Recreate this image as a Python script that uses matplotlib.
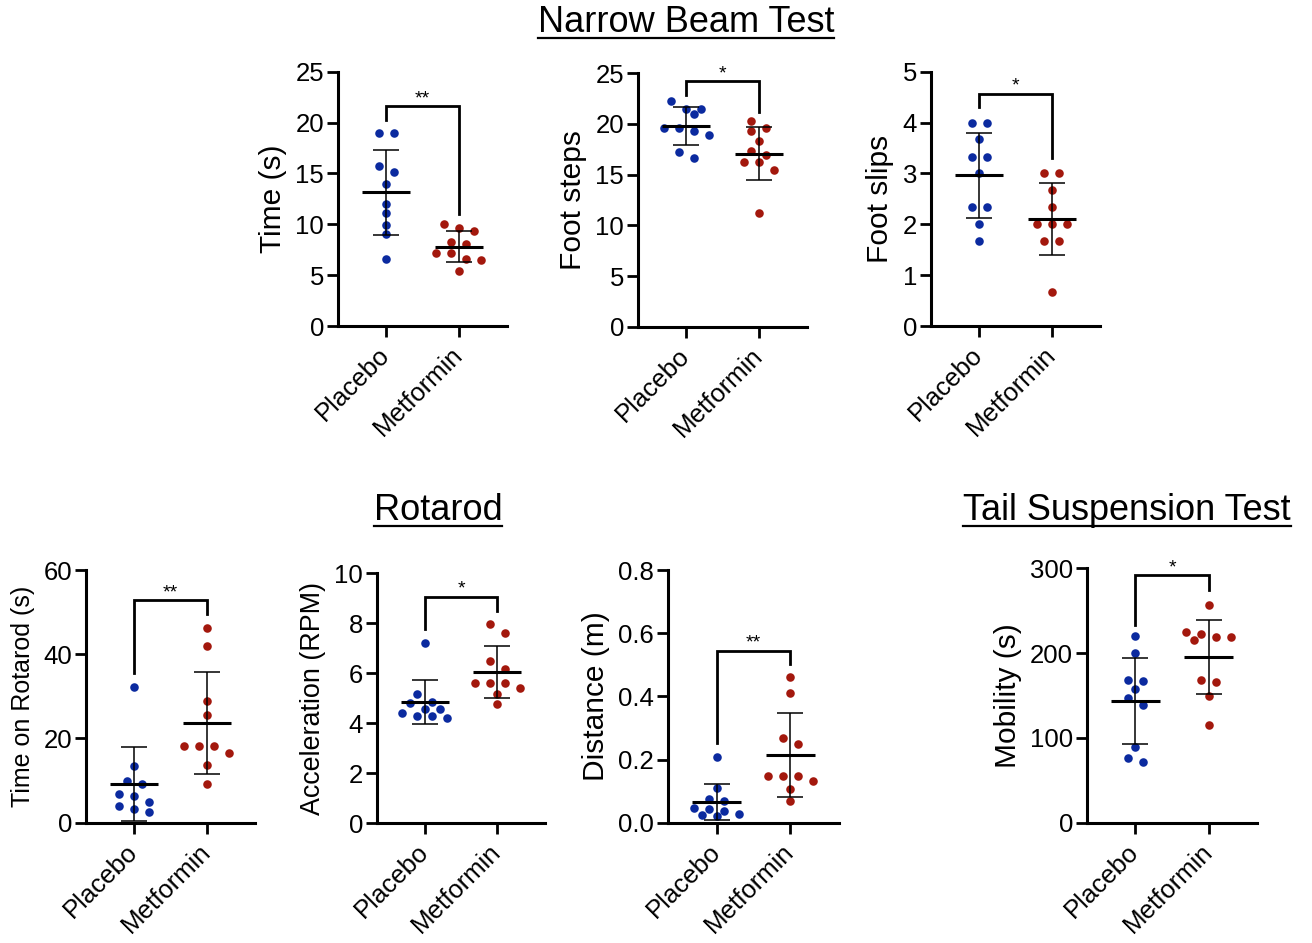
import numpy as np
import matplotlib
matplotlib.use("Agg")
import matplotlib.pyplot as plt
from matplotlib.lines import Line2D
from matplotlib.ticker import FormatStrFormatter, MultipleLocator

plt.rcParams["font.family"] = ["Liberation Sans", "DejaVu Sans"]

groups = ["Placebo", "Metformin"]

# values, 10 mice per group
beam_time_placebo = [19.0, 19.0, 15.1, 15.7, 14.0, 12.0, 11.1, 9.9, 9.0, 6.6]
beam_time_metformin = [9.6, 10.0, 9.3, 8.3, 8.1, 7.2, 7.2, 6.5, 6.55, 5.4]
foot_steps_placebo = [22.3, 21.0, 21.5, 21.5, 19.6, 19.6, 19.3, 18.95, 17.2, 16.6]
foot_steps_metformin = [20.3, 19.6, 19.3, 18.3, 17.3, 16.9, 16.25, 16.2, 15.5, 11.2]
foot_slips_placebo = [4.0, 4.0, 3.67, 3.33, 3.33, 3.0, 2.33, 2.33, 2.0, 1.67]
foot_slips_metformin = [3.0, 3.0, 2.67, 2.33, 2.0, 2.0, 2.0, 1.67, 1.67, 0.67]
rotarod_time_placebo = [32.2, 13.5, 9.9, 9.1, 6.9, 6.3, 4.9, 4.0, 3.2, 2.5]
rotarod_time_metformin = [46.2, 42.0, 29.0, 25.6, 18.3, 18.3, 18.3, 16.5, 13.6, 9.2]
accel_placebo = [7.2, 5.19, 4.83, 4.87, 4.56, 4.56, 4.43, 4.29, 4.29, 4.23]
accel_metformin = [7.97, 7.63, 6.5, 6.17, 5.6, 5.6, 5.6, 5.43, 5.19, 4.79]
distance_placebo = [0.207, 0.110, 0.068, 0.076, 0.046, 0.042, 0.023, 0.027, 0.036, 0.021]
distance_metformin = [0.462, 0.412, 0.269, 0.248, 0.148, 0.148, 0.148, 0.131, 0.108, 0.069]
mobility_placebo = [219.8, 200.5, 166.7, 168.3, 157.7, 146.7, 138.8, 89.7, 76.7, 71.6]
mobility_metformin = [256.4, 225.3, 215.5, 222.2, 219.4, 219.4, 166.0, 168.3, 149.0, 114.8]

ylabels = ["Time (s)", "Foot steps", "Foot slips", "Time on Rotarod (s)",
           "Acceleration (RPM)", "Distance (m)", "Mobility (s)"]
ymax = [25, 25, 5, 60, 10, 0.8, 300]
ystep = [5, 5, 1, 20, 2, 0.2, 100]
stars = ["**", "*", "*", "**", "*", "**", "*"]

panels = [
    (beam_time_placebo, beam_time_metformin),
    (foot_steps_placebo, foot_steps_metformin),
    (foot_slips_placebo, foot_slips_metformin),
    (rotarod_time_placebo, rotarod_time_metformin),
    (accel_placebo, accel_metformin),
    (distance_placebo, distance_metformin),
    (mobility_placebo, mobility_metformin),
]

# bracket: top, left leg end, right leg end (data units)
brackets = [(21.6, 20.25, 11.0), (24.2, 22.9, 21.15), (4.57, 4.31, 3.30),
            (52.9, 35.5, 49.5), (9.07, 7.77, 8.49), (0.545, 0.253, 0.501),
            (292, 233, 275)]

# layout in pixels: left spine x, top, right, bottom
W, H = 1312, 943
rects = [(338, 71.7, 507, 326), (638, 73.3, 807, 326.7), (931, 71.7, 1100, 326),
         (86, 570, 255, 822.7), (377, 573.3, 545, 823.3), (668, 570, 839, 822.7),
         (1087, 568.3, 1257, 822.7)]
label_sizes = [21.5, 21.5, 21.5, 18.0, 19.4, 21.5, 21.5]

BLUE = "#0B2A9F"
RED = "#A3180D"


def swarm(ax, vals, d=8.8, sp=15.0):
    """Prism-like scatter: near-equal values form centred rows, then clash check."""
    bb = ax.get_window_extent()
    y0, y1 = ax.get_ylim()
    x0, x1 = ax.get_xlim()
    ypx = (np.asarray(vals) - y0) / (y1 - y0) * bb.height
    order = list(np.argsort(-ypx, kind="stable"))
    rows = []
    for i in order:
        if rows and ypx[rows[-1][0]] - ypx[i] < d and len(rows[-1]) < 4:
            rows[-1].append(i)
        else:
            rows.append([i])
    offs = np.zeros(len(vals))
    placed = []

    def free(x, y):
        return all((x - px) ** 2 + (y - py) ** 2 >= d ** 2 - 1e-6 for px, py in placed)

    for row in rows:
        n = len(row)
        for k, i in enumerate(row):
            x = (k - (n - 1) / 2) * sp
            if not free(x, ypx[i]):
                for j in [1, -1, 2, -2, 3, -3, 4, -4, 5, -5]:
                    if free(x + j * sp / 2, ypx[i]):
                        x = x + j * sp / 2
                        break
            offs[i] = x
            placed.append((x, ypx[i]))
    return offs * (x1 - x0) / bb.width


fig = plt.figure(figsize=(W / 100, H / 100), dpi=100)

for n, (pl, mf) in enumerate(panels):
    l, t, r, b = rects[n]
    ax = fig.add_axes([l / W, 1 - b / H, (r - l) / W, (b - t) / H])
    ax.set_xlim(-0.66, 1.66)
    ax.set_ylim(0, ymax[n])
    for sp in ["top", "right"]:
        ax.spines[sp].set_visible(False)
    for sp in ["left", "bottom"]:
        ax.spines[sp].set_linewidth(2.2)

    for i, (vals, color) in enumerate(zip([pl, mf], [BLUE, RED])):
        vals = np.asarray(vals, dtype=float)
        ax.scatter(i + swarm(ax, vals), vals, s=38, color=color, linewidths=0,
                   zorder=3, clip_on=False)
        m, sd = vals.mean(), vals.std(ddof=1)
        ax.errorbar(i, m, yerr=sd, fmt="none", ecolor="black", elinewidth=1.1,
                    capsize=9.5, capthick=1.1, zorder=4)
        ax.hlines(m, i - 0.33, i + 0.33, color="black", lw=2.2, zorder=5)

    top, lb, rb = brackets[n]
    ax.plot([0, 0, 1, 1], [lb, top, top, rb], color="black", lw=2, clip_on=False,
            solid_joinstyle="miter")
    ax.annotate(stars[n], xy=(0.5, top), xytext=(0, -1), textcoords="offset points",
                ha="center", va="bottom", fontsize=14)

    ax.yaxis.set_major_locator(MultipleLocator(ystep[n]))
    ax.yaxis.set_major_formatter(FormatStrFormatter("%.1f" if ymax[n] < 1 else "%d"))
    ax.set_xticks([0, 1])
    ax.set_xticklabels(groups, rotation=45, ha="right", va="center",
                       rotation_mode="anchor", fontsize=21)
    ax.tick_params(axis="both", width=2, length=8, labelsize=18.5, pad=2)
    ax.tick_params(axis="x", pad=10)
    ax.set_ylabel(ylabels[n], fontsize=label_sizes[n], labelpad=6)

titles = [("Narrow Beam Test", 686, 32), ("Rotarod", 438, 520),
          ("Tail Suspension Test", 1127, 520)]
texts = []
for txt, cx, base in titles:
    texts.append((fig.text(cx / W, 1 - base / H, txt, ha="center", va="baseline",
                           fontsize=26), base))

fig.canvas.draw()
rend = fig.canvas.get_renderer()
for tx, base in texts:
    bb = tx.get_window_extent(rend)
    yline = 1 - (base + 5.5) / H
    fig.add_artist(Line2D([bb.x0 / W, bb.x1 / W], [yline, yline], lw=1.6,
                          color="black", transform=fig.transFigure))

fig.savefig("out.png", dpi=100)
